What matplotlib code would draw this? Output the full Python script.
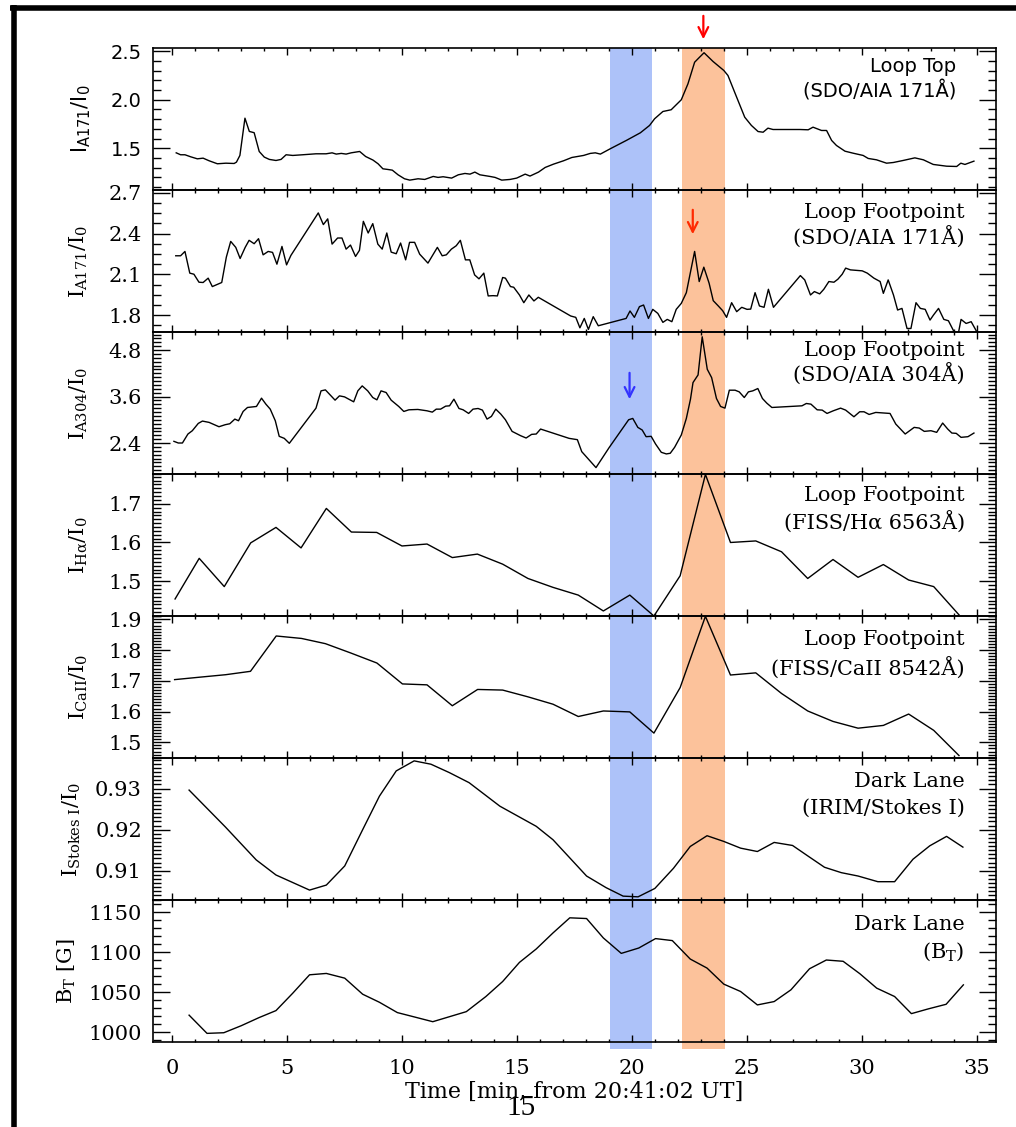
import matplotlib
matplotlib.use('Agg')
import matplotlib.pyplot as plt
from matplotlib.ticker import MultipleLocator, FormatStrFormatter
from matplotlib.lines import Line2D

# ---------------- data ----------------
blue_band = [19.02, 20.88]
orange_band = [22.16, 24.03]

t1 = [0.17, 0.36, 0.55, 0.8, 1.09, 1.34, 1.6, 1.96, 2.33, 2.69, 2.79, 2.94, 3.16, 3.35, 3.56, 3.78,
      4.0, 4.22, 4.51, 4.73, 4.95, 5.24, 5.67, 6.25, 6.69, 6.95, 7.13, 7.35, 7.56, 7.78, 8.15, 8.41,
      8.73, 8.95, 9.16, 9.38, 9.57, 9.82, 10.1, 10.33, 10.69, 10.98, 11.35, 11.56, 11.78, 12.15,
      12.44, 12.73, 12.95, 13.16, 13.38, 13.82, 14.04, 14.33, 14.69, 14.98, 15.35, 15.56, 15.93,
      16.22, 16.58, 17.02, 17.38, 17.89, 18.18, 18.4, 18.62, 19.05, 19.75, 20.36, 20.76, 20.98,
      21.34, 21.7, 22.14, 22.43, 22.72, 22.91, 23.13, 23.52, 23.99, 24.17, 24.46, 24.9, 25.19,
      25.48, 25.7, 25.91, 26.13, 27.3, 27.66, 27.87, 28.24, 28.46, 28.68, 28.89, 29.26, 29.62,
      30.05, 30.27, 30.63, 31.07, 31.36, 31.79, 32.3, 32.67, 33.1, 33.68, 34.12, 34.3, 34.48, 34.87]
v1 = [1.452, 1.432, 1.432, 1.411, 1.39, 1.397, 1.37, 1.339, 1.345, 1.342, 1.356, 1.425, 1.81, 1.673,
      1.66, 1.466, 1.408, 1.384, 1.373, 1.384, 1.432, 1.425, 1.432, 1.442, 1.442, 1.452, 1.439,
      1.446, 1.439, 1.452, 1.466, 1.414, 1.377, 1.339, 1.287, 1.28, 1.273, 1.225, 1.184, 1.17,
      1.184, 1.177, 1.208, 1.198, 1.205, 1.191, 1.225, 1.239, 1.232, 1.253, 1.225, 1.208, 1.198,
      1.17, 1.177, 1.191, 1.232, 1.212, 1.253, 1.301, 1.335, 1.37, 1.404, 1.425, 1.446, 1.452,
      1.439, 1.494, 1.58, 1.659, 1.735, 1.804, 1.879, 1.897, 2.0, 2.165, 2.388, 2.434, 2.486,
      2.396, 2.303, 2.251, 2.079, 1.82, 1.735, 1.672, 1.665, 1.707, 1.693, 1.693, 1.69, 1.717,
      1.683, 1.683, 1.58, 1.528, 1.469, 1.448, 1.425, 1.394, 1.38, 1.345, 1.352, 1.373, 1.4,
      1.38, 1.332, 1.314, 1.311, 1.345, 1.332, 1.366]

t2 = [0.15, 0.36, 0.55, 0.76, 0.94, 1.16, 1.34, 1.56, 1.74, 2.15, 2.35, 2.54, 2.76, 2.95, 3.17,
      3.34, 3.56, 3.75, 3.95, 4.17, 4.36, 4.55, 4.77, 4.97, 5.16, 6.35, 6.57, 6.76, 6.95, 7.19,
      7.38, 7.56, 7.75, 7.97, 8.14, 8.31, 8.52, 8.72, 8.94, 9.13, 9.33, 9.52, 9.74, 9.93, 10.15,
      10.32, 10.54, 10.76, 11.12, 11.53, 11.74, 11.92, 12.14, 12.35, 12.53, 12.75, 12.94, 13.15,
      13.34, 13.55, 13.74, 13.95, 14.14, 14.37, 14.49, 14.71, 14.85, 15.1, 15.29, 15.51, 15.73,
      15.92, 17.33, 17.55, 17.73, 17.92, 18.1, 18.31, 18.53, 19.74, 19.91, 20.1, 20.32, 20.5,
      20.71, 20.9, 21.12, 21.34, 21.53, 21.73, 21.92, 22.14, 22.36, 22.72, 22.92, 23.12, 23.35,
      23.53, 23.75, 23.94, 24.11, 24.33, 24.55, 24.77, 25.0, 25.16, 25.35, 25.54, 25.74, 25.93,
      26.15, 27.32, 27.51, 27.76, 27.93, 28.16, 28.34, 28.56, 28.78, 28.95, 29.14, 29.29, 29.5,
      30.01, 30.23, 30.52, 30.79, 30.93, 31.14, 31.37, 31.55, 31.74, 31.96, 32.13, 32.35, 32.54,
      32.75, 32.96, 33.11, 33.33, 33.56, 33.76, 34.02, 34.2, 34.31, 34.53, 34.75, 35.01]
v2 = [2.237, 2.237, 2.269, 2.109, 2.101, 2.042, 2.04, 2.072, 2.01, 2.04, 2.227, 2.343, 2.299,
      2.217, 2.299, 2.351, 2.326, 2.363, 2.244, 2.269, 2.262, 2.175, 2.306, 2.17, 2.24, 2.553,
      2.467, 2.509, 2.323, 2.368, 2.368, 2.286, 2.316, 2.232, 2.277, 2.491, 2.405, 2.474, 2.323,
      2.286, 2.405, 2.264, 2.252, 2.331, 2.207, 2.336, 2.336, 2.249, 2.183, 2.299, 2.237, 2.244,
      2.286, 2.311, 2.351, 2.207, 2.207, 2.096, 2.067, 2.109, 1.941, 1.943, 1.941, 2.077, 2.072,
      2.01, 2.005, 1.948, 1.891, 1.948, 1.904, 1.931, 1.793, 1.783, 1.706, 1.775, 1.694, 1.788,
      1.721, 1.775, 1.83, 1.783, 1.862, 1.874, 1.775, 1.842, 1.812, 1.746, 1.768, 1.751, 1.842,
      1.886, 1.965, 2.269, 2.047, 2.153, 2.035, 1.906, 1.867, 1.832, 1.783, 1.891, 1.825, 1.857,
      1.842, 1.844, 1.965, 1.867, 1.857, 1.99, 1.857, 2.091, 2.059, 1.948, 1.973, 1.956, 1.99,
      2.047, 2.042, 2.064, 2.101, 2.146, 2.133, 2.126, 2.109, 2.072, 2.047, 1.96, 2.059, 1.948,
      1.837, 1.849, 1.701, 1.701, 1.891, 1.849, 1.842, 1.763, 1.8, 1.849, 1.768, 1.758, 1.672,
      1.672, 1.768, 1.738, 1.751, 1.672]

t3 = [0.07, 0.26, 0.44, 0.68, 0.87, 1.13, 1.31, 1.6, 2.03, 2.3, 2.5, 2.72, 2.88, 3.08, 3.27, 3.66,
      3.88, 4.07, 4.26, 4.48, 4.65, 4.87, 5.09, 6.25, 6.47, 6.66, 7.08, 7.27, 7.49, 7.89, 8.07,
      8.26, 8.5, 8.72, 8.9, 9.08, 9.3, 9.52, 9.85, 10.07, 10.29, 10.68, 11.08, 11.31, 11.48, 11.67,
      11.89, 12.06, 12.25, 12.47, 12.65, 12.89, 13.08, 13.3, 13.49, 13.69, 13.88, 14.07, 14.29,
      14.49, 14.78, 15.15, 15.39, 15.63, 15.83, 16.02, 17.26, 17.62, 17.81, 18.43, 19.01, 19.85,
      20.03, 20.25, 20.44, 20.61, 20.83, 21.02, 21.27, 21.49, 21.66, 21.85, 22.14, 22.36, 22.54,
      22.65, 22.87, 23.05, 23.27, 23.46, 23.67, 23.85, 24.04, 24.23, 24.48, 24.66, 24.88, 25.06,
      25.25, 25.47, 25.67, 25.86, 26.08, 27.39, 27.58, 27.78, 28.05, 28.27, 28.48, 28.75, 29.07,
      29.29, 29.65, 29.9, 30.09, 30.31, 30.6, 31.22, 31.47, 31.88, 32.27, 32.49, 32.71, 33.0,
      33.25, 33.51, 33.73, 33.91, 34.1, 34.31, 34.61, 34.87]
v3 = [2.443, 2.4, 2.4, 2.632, 2.717, 2.906, 2.966, 2.932, 2.82, 2.872, 2.897, 3.017, 2.974, 3.214,
      3.317, 3.343, 3.557, 3.403, 3.274, 2.974, 2.572, 2.52, 2.392, 3.3, 3.746, 3.771, 3.506,
      3.617, 3.591, 3.463, 3.746, 3.874, 3.746, 3.574, 3.514, 3.746, 3.703, 3.506, 3.343, 3.214,
      3.257, 3.266, 3.231, 3.197, 3.274, 3.274, 3.351, 3.36, 3.531, 3.291, 3.257, 3.163, 3.274,
      3.291, 3.249, 3.017, 3.086, 3.274, 3.146, 3.0, 2.7, 2.589, 2.529, 2.623, 2.632, 2.76,
      2.52, 2.486, 2.177, 1.765, 2.289, 3.0, 3.034, 2.803, 2.735, 2.563, 2.572, 2.375, 2.16,
      2.118, 2.135, 2.289, 2.606, 3.034, 3.531, 3.96, 4.157, 5.142, 4.303, 4.088, 3.549, 3.343,
      3.3, 3.763, 3.763, 3.72, 3.574, 3.72, 3.746, 3.806, 3.549, 3.429, 3.317, 3.36, 3.42, 3.403,
      3.257, 3.249, 3.163, 3.231, 3.3, 3.249, 3.077, 3.206, 3.206, 3.137, 3.189, 3.163, 2.889,
      2.632, 2.803, 2.786, 2.7, 2.717, 2.675, 2.915, 2.76, 2.657, 2.649, 2.546, 2.563, 2.657]

t4 = [0.12, 1.17, 2.26, 3.41, 4.51, 5.6, 6.7, 7.79, 8.89, 9.99, 11.08, 12.18, 13.27, 14.37, 15.47,
      16.56, 17.66, 18.75, 19.9, 20.95, 22.09, 23.19, 24.28, 25.38, 26.5, 27.64, 28.74, 29.83,
      30.93, 32.03, 33.12, 34.22]
v4 = [1.454, 1.559, 1.486, 1.599, 1.639, 1.586, 1.688, 1.627, 1.626, 1.591, 1.596, 1.561, 1.57,
      1.544, 1.507, 1.484, 1.464, 1.423, 1.464, 1.41, 1.514, 1.776, 1.6, 1.604, 1.576, 1.507,
      1.556, 1.51, 1.543, 1.503, 1.486, 1.413]

t5 = [0.1, 1.2, 2.32, 3.4, 4.52, 5.62, 6.66, 7.75, 8.9, 10.01, 11.08, 12.18, 13.28, 14.37, 15.47,
      16.56, 17.66, 18.75, 19.9, 20.95, 22.09, 23.19, 24.28, 25.38, 26.5, 27.64, 28.74, 29.83,
      30.93, 32.03, 33.12, 34.22]
v5 = [1.704, 1.712, 1.72, 1.731, 1.846, 1.838, 1.821, 1.791, 1.758, 1.69, 1.687, 1.619, 1.672,
      1.67, 1.648, 1.624, 1.584, 1.602, 1.599, 1.53, 1.678, 1.91, 1.719, 1.726, 1.659, 1.602,
      1.568, 1.546, 1.555, 1.592, 1.539, 1.457]

t6 = [0.73, 2.31, 3.65, 4.51, 5.97, 6.7, 7.5, 8.28, 9.01, 9.74, 10.52, 11.25, 12.05, 12.91, 14.25,
      15.83, 16.56, 18.02, 18.87, 19.61, 20.26, 20.99, 21.8, 22.53, 23.26, 23.99, 24.72, 25.45,
      26.18, 26.98, 27.64, 28.37, 29.1, 29.83, 30.69, 31.42, 32.22, 32.95, 33.68, 34.39]
v6 = [0.92963, 0.92065, 0.91265, 0.90898, 0.90531, 0.90653, 0.91118, 0.92, 0.92816, 0.93429,
      0.93673, 0.93592, 0.93388, 0.93143, 0.92571, 0.92082, 0.91755, 0.90873, 0.9059, 0.90384,
      0.90367, 0.90571, 0.91061, 0.91592, 0.91853, 0.91714, 0.91551, 0.91469, 0.9169, 0.91616,
      0.91363, 0.91086, 0.90955, 0.90873, 0.90735, 0.90735, 0.91282, 0.91608, 0.91837, 0.91576]

t7 = [0.73, 1.51, 2.24, 3.0, 3.77, 4.51, 5.24, 5.97, 6.7, 7.5, 8.28, 9.01, 9.79, 10.55, 11.33,
      12.79, 13.64, 14.37, 15.1, 15.83, 16.56, 17.29, 18.02, 18.75, 19.53, 20.29, 21.02, 21.75,
      22.53, 23.26, 23.99, 24.72, 25.45, 26.18, 26.91, 27.72, 28.45, 29.18, 29.91, 30.64, 31.42,
      32.15, 32.88, 33.66, 34.41]
v7 = [1021.4, 998.6, 999.4, 1008.2, 1018.3, 1027.1, 1048.9, 1071.9, 1073.6, 1067.7, 1047.6,
      1037.5, 1024.6, 1019.0, 1013.2, 1025.8, 1044.7, 1063.5, 1087.4, 1104.2, 1124.3, 1143.2,
      1142.3, 1118.0, 1098.7, 1105.4, 1117.2, 1114.7, 1091.6, 1080.3, 1060.2, 1051.0, 1034.2,
      1038.4, 1053.1, 1079.5, 1090.4, 1088.8, 1073.2, 1055.2, 1044.7, 1023.3, 1029.2, 1035.0,
      1059.3]

x_ticks = [0, 5, 10, 15, 20, 25, 30, 35]
xlabel = 'Time [min, from 20:41:02 UT]'

# ---------------- figure ----------------
W, H = 1016, 1127
fig = plt.figure(figsize=(W / 100, H / 100), dpi=100)

XLIM = (-0.84, 35.83)
LPX, RPX = 153, 996
TOPS = [48, 190, 332, 474, 616, 758, 900]
PH = 142


def fx(px):
    return px / W


def fy(py):
    return 1 - py / H


# background shading, extends slightly below the bottom axis
bg = fig.add_axes([fx(LPX), fy(1049), (RPX - LPX) / W, (1049 - 48) / H], zorder=0)
bg.set_xlim(XLIM)
bg.set_ylim(0, 1)
bg.axis('off')
bg.axvspan(blue_band[0], blue_band[1], color='#adc2f9', lw=0)
bg.axvspan(orange_band[0], orange_band[1], color='#fcc29b', lw=0)

SANS = 'DejaVu Sans'
SERIF = 'DejaVu Serif'

panels = [
    dict(t=t1, v=v1, ylim=(1.068, 2.535), major=0.5, minor=0.1, fmt='%.1f', font=SANS,
         ylabel=r'$\mathregular{I_{A171}/I_0}$', l1='Loop Top', l2='(SDO/AIA 171Å)',
         y1=0.873, y2=0.697, tx=0.953, ts=14, ls=14, lx=-0.071),
    dict(t=t2, v=v2, ylim=(1.675, 2.722), major=0.3, minor=0.075, fmt='%.1f', font=SERIF,
         ylabel=r'$\mathregular{I_{A171}/I_0}$', l1='Loop Footpoint', l2='(SDO/AIA 171Å)',
         y1=0.845, y2=0.669, tx=0.963, ts=15, ls=15, lx=-0.075),
    dict(t=t3, v=v3, ylim=(1.6, 5.265), major=1.2, minor=0.1, fmt='%.1f', font=SERIF,
         ylabel=r'$\mathregular{I_{A304}/I_0}$', l1='Loop Footpoint', l2='(SDO/AIA 304Å)',
         y1=0.873, y2=0.704, tx=0.963, ts=15, ls=15, lx=-0.075),
    dict(t=t4, v=v4, ylim=(1.41, 1.777), major=0.1, minor=0.01, fmt='%.1f', font=SERIF,
         ylabel=r'$\mathregular{I_{H\alpha}/I_0}$', l1='Loop Footpoint', l2='(FISS/Hα 6563Å)',
         y1=0.852, y2=0.662, tx=0.963, ts=15, ls=15, lx=-0.075),
    dict(t=t5, v=v5, ylim=(1.449, 1.911), major=0.1, minor=0.01, fmt='%.1f', font=SERIF,
         ylabel=r'$\mathregular{I_{CaII}/I_0}$', l1='Loop Footpoint', l2='(FISS/CaII 8542Å)',
         y1=0.831, y2=0.634, tx=0.963, ts=15, ls=15, lx=-0.075),
    dict(t=t6, v=v6, ylim=(0.9029, 0.93743), major=0.01, minor=0.001, fmt='%.2f', font=SERIF,
         ylabel=r'$\mathregular{I_{Stokes\ I}/I_0}$', l1='Dark Lane', l2='(IRIM/Stokes I)',
         y1=0.838, y2=0.648, tx=0.963, ts=15, ls=15, lx=-0.083),
    dict(t=t7, v=v7, ylim=(987.8, 1165.5), major=50, minor=10, fmt='%d', font=SERIF,
         ylabel=r'$\mathregular{B_T}$ [G]', l1='Dark Lane', l2=r'(B$\mathregular{_T}$)',
         y1=0.824, y2=0.634, tx=0.963, ts=15, ls=15, lx=-0.089),
]

axes = []
for i, p in enumerate(panels):
    top = TOPS[i]
    ax = fig.add_axes([fx(LPX), fy(top + PH), (RPX - LPX) / W, PH / H], zorder=2)
    ax.set_facecolor('none')
    ax.plot(p['t'], p['v'], color='black', lw=1.0)
    ax.set_xlim(XLIM)
    ax.set_ylim(p['ylim'])
    ax.xaxis.set_major_locator(MultipleLocator(5))
    ax.xaxis.set_minor_locator(MultipleLocator(1))
    ax.yaxis.set_major_locator(MultipleLocator(p['major']))
    ax.yaxis.set_minor_locator(MultipleLocator(p['minor']))
    ax.yaxis.set_major_formatter(FormatStrFormatter(p['fmt']))
    for s in ax.spines.values():
        s.set_linewidth(1.2)
    ax.tick_params(axis='both', which='both', direction='in', top=True, right=True,
                   width=1.0, color='black')
    ax.tick_params(axis='y', which='major', length=12, pad=8, labelsize=p['ls'],
                   labelfontfamily=p['font'])
    ax.tick_params(axis='y', which='minor', length=6)
    ax.tick_params(axis='x', which='major', length=5)
    ax.tick_params(axis='x', which='minor', length=2.5)
    if i < len(panels) - 1:
        ax.tick_params(axis='x', labelbottom=False)
    else:
        ax.set_xticks(x_ticks)
        ax.tick_params(axis='x', which='major', labelsize=15, pad=12, labelfontfamily=SERIF)
        ax.set_xlabel(xlabel, fontsize=16, family=SERIF, labelpad=2)
    ax.set_ylabel(p['ylabel'], fontsize=15, family=p['font'])
    ax.yaxis.set_label_coords(p['lx'], 0.5)
    ax.text(p['tx'], p['y1'], p['l1'], transform=ax.transAxes, ha='right', va='center',
            fontsize=p['ts'], family=p['font'])
    ax.text(p['tx'], p['y2'], p['l2'], transform=ax.transAxes, ha='right', va='center',
            fontsize=p['ts'], family=p['font'])
    axes.append(ax)

# arrows
arrow_kw = dict(arrowstyle='->,head_length=0.7,head_width=0.35', lw=1.6)
axes[0].annotate('', xy=(23.1, 1.042), xytext=(23.1, 1.246),
                 xycoords=axes[0].get_xaxis_transform(), textcoords=axes[0].get_xaxis_transform(),
                 arrowprops=dict(color='#ff0000', **arrow_kw), annotation_clip=False)
axes[1].annotate('', xy=(22.64, 0.669), xytext=(22.64, 0.88),
                 xycoords=axes[1].get_xaxis_transform(), textcoords=axes[1].get_xaxis_transform(),
                 arrowprops=dict(color='#ff2a00', **arrow_kw))
axes[2].annotate('', xy=(19.89, 0.507), xytext=(19.89, 0.732),
                 xycoords=axes[2].get_xaxis_transform(), textcoords=axes[2].get_xaxis_transform(),
                 arrowprops=dict(color='#3333ff', **arrow_kw))

# page frame lines and page number
fig.add_artist(Line2D([fx(10), 1.0], [fy(7.5), fy(7.5)], color='black', lw=4, solid_capstyle='butt'))
fig.add_artist(Line2D([fx(13.5), fx(13.5)], [fy(5), 0.0], color='black', lw=4, solid_capstyle='butt'))
fig.text(fx(521), fy(1108), '15', ha='center', va='center', fontsize=21, family='Liberation Serif')

fig.savefig('out.png', dpi=100)
